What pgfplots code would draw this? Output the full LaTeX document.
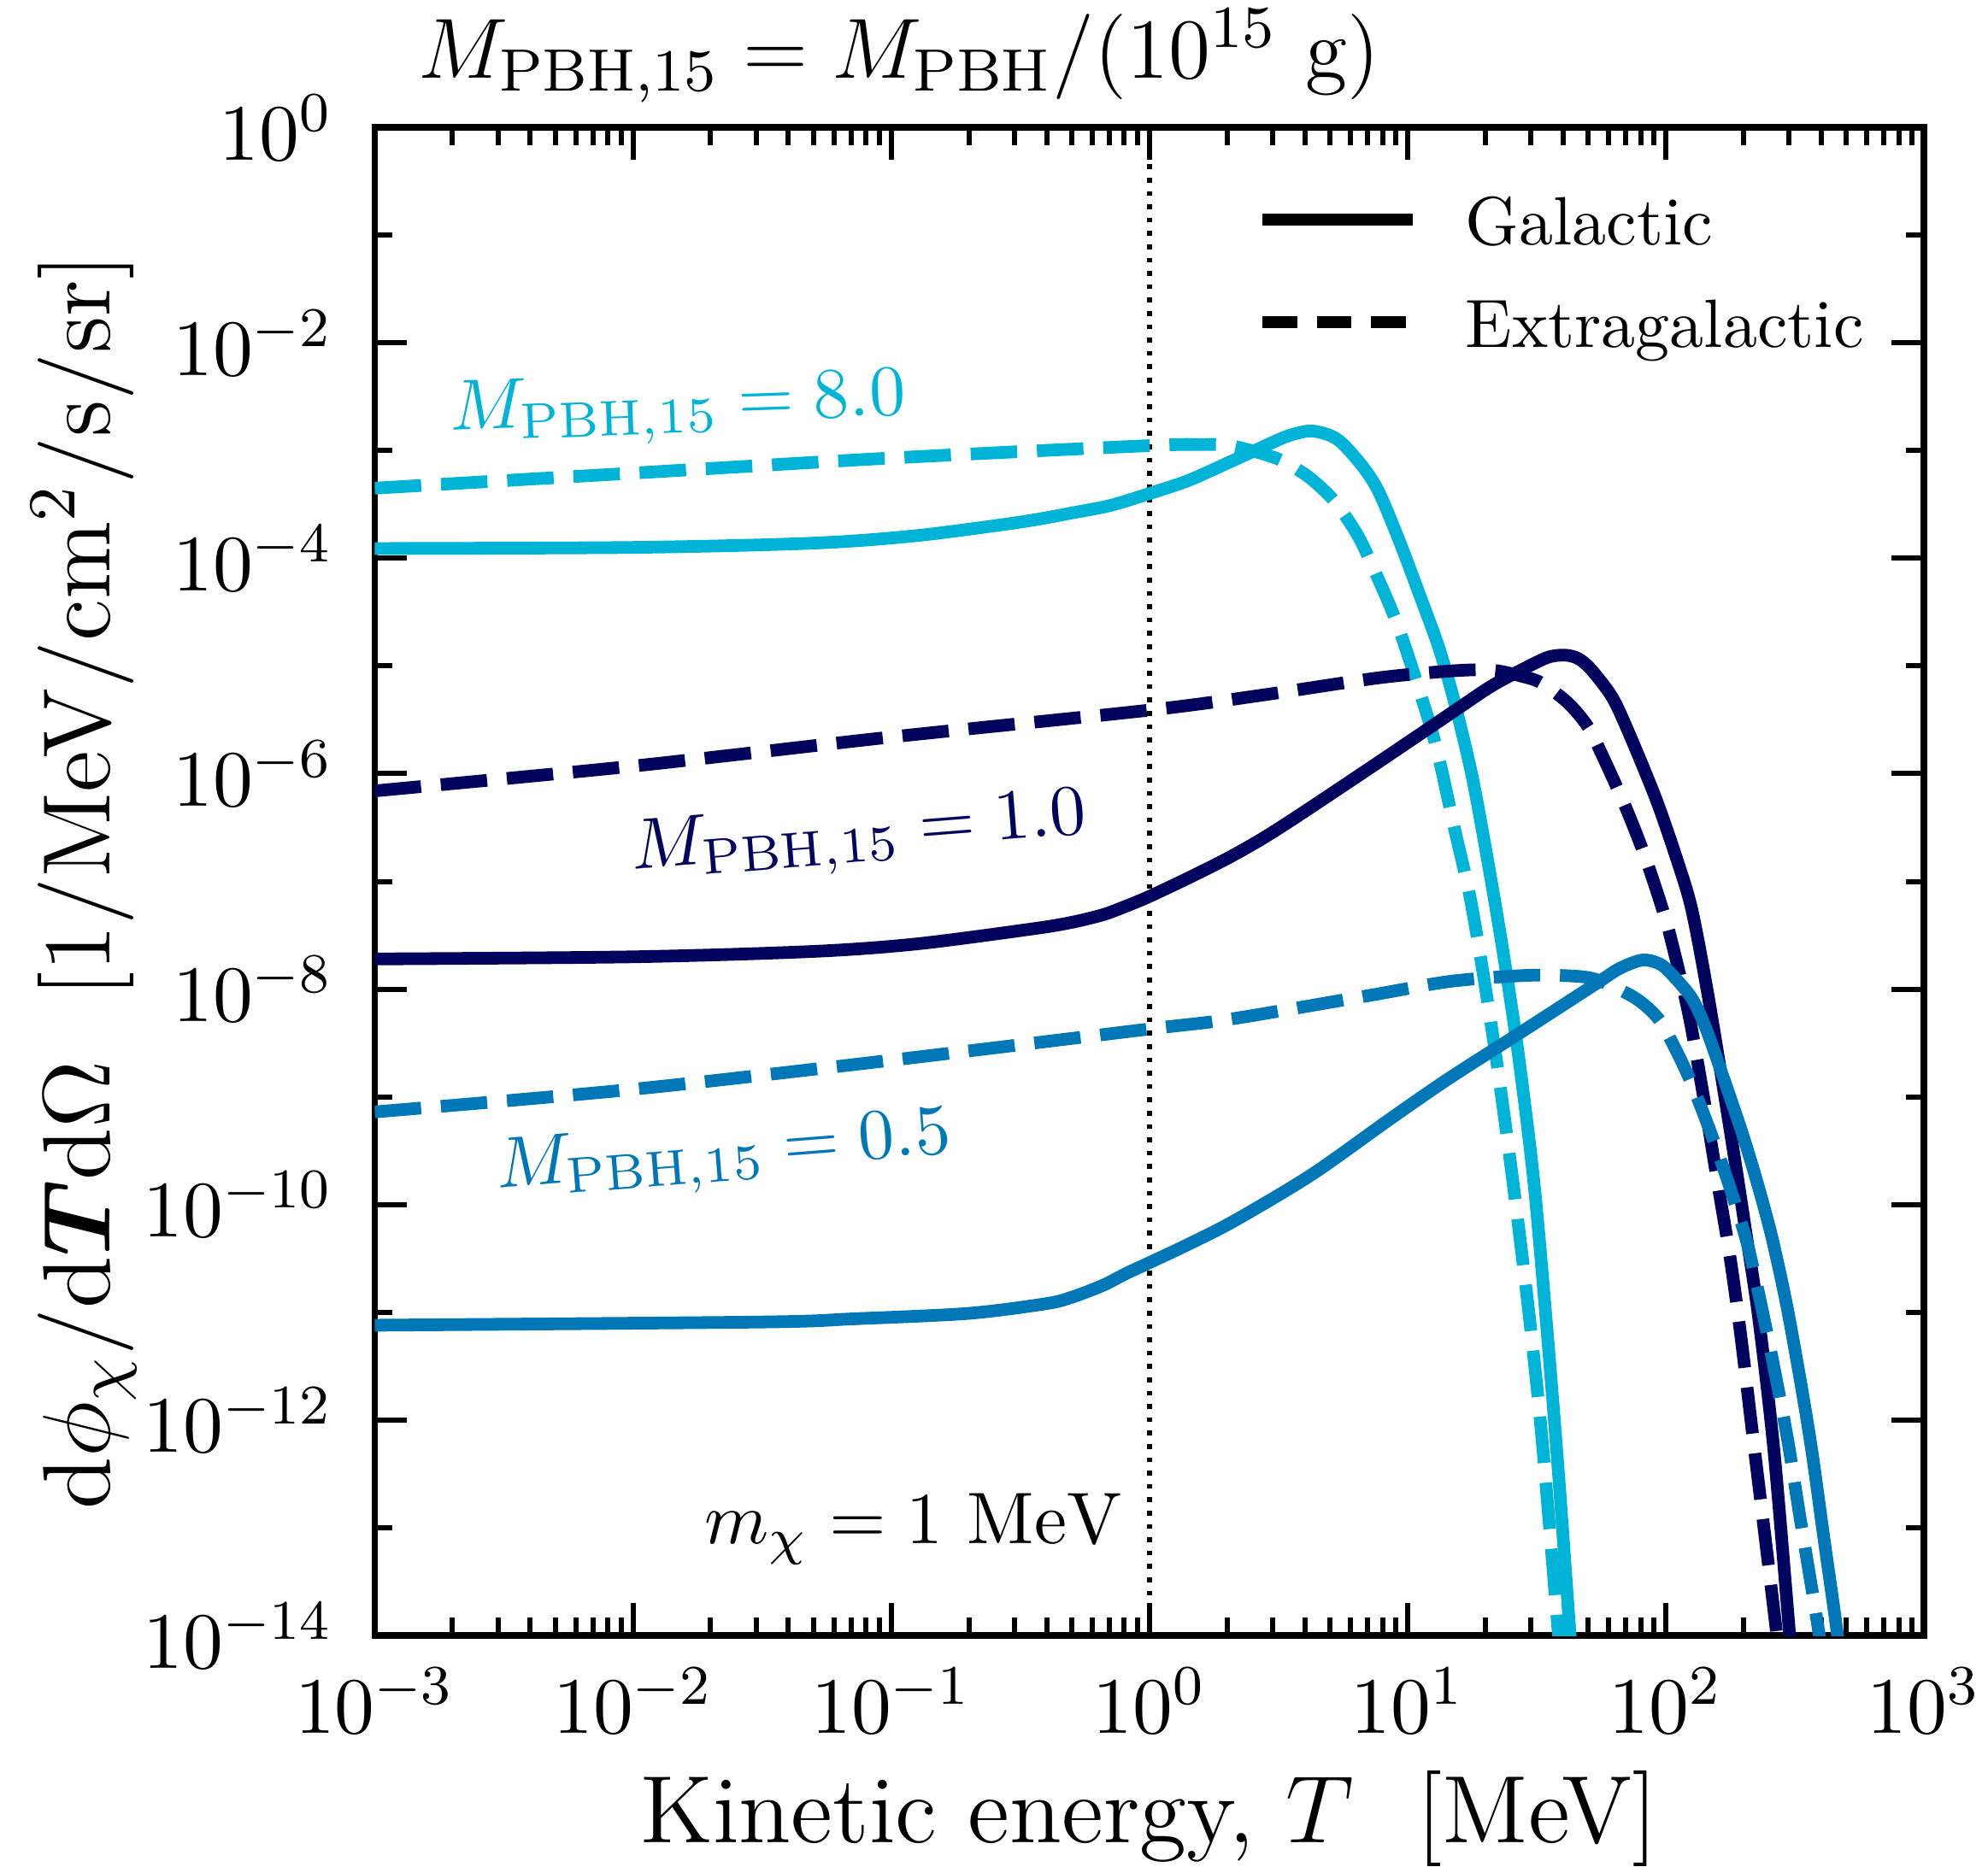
\RequirePackage{fix-cm}
\documentclass[border=0pt]{standalone}
\usepackage{bm}
\usepackage{pgfplots}
\pgfplotsset{compat=1.18}

\definecolor{pbhCyan}{HTML}{00B4D8}
\definecolor{pbhBlue}{HTML}{0077B6}
\definecolor{pbhNavy}{HTML}{03045E}

\pgfplotsset{
  galactic/.style={line width=1.85pt, smooth, tension=0.5, forget plot},
  extragalactic/.style={line width=1.85pt, smooth, tension=0.5,
                        dash pattern=on 6.8pt off 2.9pt, forget plot},
}

\begin{document}
\begin{tikzpicture}
\begin{axis}[
  name=ax,
  scale only axis,
  width=226.56pt, height=220.63pt,
  xmode=log, ymode=log,
  xmin=1e-3, xmax=1e3, ymin=1e-14, ymax=1,
  xtick={1e-3,1e-2,1e-1,1,1e1,1e2,1e3},
  minor xtick={2e-3,3e-3,4e-3,5e-3,6e-3,7e-3,8e-3,9e-3,
               2e-2,3e-2,4e-2,5e-2,6e-2,7e-2,8e-2,9e-2,
               0.2,0.3,0.4,0.5,0.6,0.7,0.8,0.9,
               2,3,4,5,6,7,8,9,
               20,30,40,50,60,70,80,90,
               200,300,400,500,600,700,800,900},
  ytick={1e-14,1e-12,1e-10,1e-8,1e-6,1e-4,1e-2,1},
  minor ytick={1e-13,1e-11,1e-9,1e-7,1e-5,1e-3,1e-1},
  tick align=inside, tick pos=both,
  major tick length=4.7pt, minor tick length=2.6pt,
  every tick/.style={black, line width=0.75pt},
  axis line style={line width=0.9pt},
  tick label style={font=\fontsize{11.7}{14}\selectfont},
  xticklabel style={anchor=base, yshift=-14.25pt},
  yticklabel style={anchor=east, inner sep=0pt, xshift=-6pt},
  label style={font=\fontsize{14}{17}\selectfont},
  xlabel={Kinetic energy, $T$\ \ [MeV]},
  ylabel={$\mathrm{d}\phi_\chi/\mathrm{d}\bm{T}\mathrm{d}\Omega$\ \ [1/MeV/cm$^2$/s/sr]},
  xlabel style={at={(axis description cs:0.5,-0.1371)}, anchor=base},
  ylabel style={at={(axis description cs:-0.1712,0.5)}, anchor=base},
  title={$M_{\mathrm{PBH},15} = M_{\mathrm{PBH}}/(10^{15}\ \mathrm{g})$},
  title style={at={(axis description cs:0.3385,1)}, anchor=base, yshift=1.2pt,
               font=\fontsize{12.5}{15}\selectfont},
  legend style={draw=none, fill=none, at={(axis description cs:0.5693,0.9536)},
                anchor=north west, inner sep=0pt, outer sep=0pt, row sep=8pt,
                font=\fontsize{10}{12}\selectfont,
                nodes={inner sep=0pt, text height=7pt, text depth=0pt}},
  legend cell align=left,
  legend image code/.code={\draw[#1] (0pt,0.2pt) -- (21.9pt,0.2pt);},
  /tikz/every odd column/.append style={column sep=6.9pt},
]

% legend samples
\addlegendimage{black, line width=1.75pt}
\addlegendentry{Galactic}
\addlegendimage{black, line width=1.75pt, dash pattern=on 5.1pt off 2.8pt}
\addlegendentry{Extragalactic}

% m_chi = 1 MeV
\addplot[black, line width=0.7pt, dash pattern=on 0.7pt off 1.25pt, forget plot]
  coordinates {(1,1e-14) (1,1)};

% M_PBH,15 = 8.0
\addplot[pbhCyan, extragalactic] coordinates {
(1e-3,4.467e-4) (1e-2,6.166e-4) (0.1,8.511e-4) (1,1.109e-3) (1.585,1.135e-3)
(1.995,1.122e-3) (2.570,9.772e-4) (3.162,8.318e-4) (3.715,6.761e-4) (4.315,5.248e-4)
(5.248,3.311e-4) (6.457,1.585e-4) (7.762,6.166e-5) (9.120,2.455e-5) (10.72,7.762e-6)
(12.88,1.820e-6) (15.14,3.236e-7) (17.38,7.586e-8) (19.50,1.549e-8) (22.39,1.778e-9)
(25.70,1.514e-10) (29.51,1e-11) (33.11,7.079e-13) (38.46,1e-14) (39.81,3.981e-15)
};
\addplot[pbhCyan, galactic] coordinates {
(1e-3,1.230e-4) (1e-2,1.259e-4) (5.012e-2,1.380e-4) (0.1259,1.622e-4) (0.3162,2.163e-4)
(0.5012,2.630e-4) (0.7079,3.090e-4) (1,3.981e-4) (1.413,5.248e-4) (1.995,7.586e-4)
(2.570,1e-3) (3.311,1.318e-3) (3.890,1.479e-3) (4.315,1.514e-3) (5.012,1.380e-3)
(5.623,1.148e-3) (6.761,6.918e-4) (7.762,4.074e-4) (9.333,1.413e-4) (11.22,4.365e-5)
(13.18,1.514e-5) (15.14,4.786e-6) (17.78,9.550e-7) (20.42,1.585e-7) (23.44,2.239e-8)
(26.92,2.399e-9) (30.90,1.585e-10) (34.67,7.079e-12) (38.46,3.162e-13) (42.66,1e-14)
(44.16,3.981e-15)
};

% M_PBH,15 = 1.0
\addplot[pbhNavy, extragalactic] coordinates {
(1e-3,6.918e-7) (1e-2,1.175e-6) (0.1,2.188e-6) (1,3.890e-6) (2.754,5.370e-6)
(7.762,7.762e-6) (15.14,9.016e-6) (21.38,9.120e-6) (28.18,7.943e-6) (33.11,6.918e-6)
(41.69,4.571e-6) (50.12,2.692e-6) (58.88,1.230e-6) (70.79,4.571e-7) (83.18,1.698e-7)
(95.50,6.310e-8) (104.7,2.951e-8) (123.0,5.754e-9) (141.3,8.913e-10) (158.5,1.660e-10)
(177.8,3.162e-11) (195.0,6.310e-12) (218.8,6.310e-13) (269.2,1.023e-14) (278.6,3.981e-15)
};
\addplot[pbhNavy, galactic] coordinates {
(1e-3,1.905e-8) (1e-2,1.995e-8) (5.012e-2,2.239e-8) (0.1259,2.630e-8) (0.3548,3.631e-8)
(0.5012,4.169e-8) (0.6607,4.898e-8) (0.8128,5.888e-8) (1,7.244e-8) (1.413,1.072e-7)
(1.995,1.622e-7) (2.754,2.512e-7) (3.890,4.266e-7) (7.762,1.288e-6)
(15.14,3.802e-6) (21.38,6.607e-6) (30.20,1.023e-5) (35.48,1.216e-5) (40.74,1.259e-5)
(45.71,1.175e-5) (51.29,9.333e-6) (61.66,5.248e-6) (70.79,2.630e-6) (91.20,6.026e-7)
(109.6,1.698e-7) (125.9,5.623e-8) (144.5,1e-8) (166.0,1.349e-9) (186.2,2.399e-10)
(204.2,5.623e-11) (229.1,8.913e-12) (263.0,5.012e-13) (302.0,1.023e-14) (312.6,3.981e-15)
};

% M_PBH,15 = 0.5
\addplot[pbhBlue, extragalactic] coordinates {
(1e-3,7.244e-10) (1e-2,1.175e-9) (0.1,2.188e-9) (1,4.266e-9) (2.042,5.248e-9)
(7.079,8.710e-9) (14.45,1.175e-8) (27.54,1.334e-8) (40.74,1.334e-8) (53.70,1.230e-8)
(75.86,8.318e-9) (93.33,5.370e-9) (107.2,3.020e-9) (125.9,1.334e-9) (151.4,4.266e-10)
(177.8,1.413e-10) (208.9,3.981e-11) (251.2,5.248e-12) (295.1,7.079e-13) (331.1,1.259e-13)
(393.6,1e-14) (407.4,3.981e-15)
};
\addplot[pbhBlue, galactic] coordinates {
(1e-3,7.586e-12) (3.162e-2,8.128e-12) (7.244e-2,8.710e-12) (0.1995,9.772e-12) (0.3981,1.202e-11)
(0.5012,1.380e-11) (0.6607,1.778e-11) (0.8128,2.291e-11) (1,2.884e-11) (1.413,4.266e-11)
(2.138,7.079e-11) (4.266,1.905e-10) (8.511,6.166e-10) (14.45,1.479e-9) (27.54,3.981e-9)
(53.70,1.122e-8) (66.07,1.549e-8) (81.28,1.862e-8) (95.50,1.698e-8) (107.2,1.318e-8)
(125.9,8.318e-9) (141.3,4.677e-9) (158.5,2.188e-9) (195.0,5.129e-10) (223.9,1.738e-10)
(257.0,5.129e-11) (295.1,1.122e-11) (338.8,1.778e-12) (371.5,4.467e-13) (407.4,8.913e-14)
(462.4,1.023e-14) (478.6,3.981e-15)
};

% curve labels
\node[rotate=2, text=pbhCyan, font=\fontsize{10.5}{13}\selectfont]
  at (axis cs:1.493e-2,2.46e-3) {$M_{\mathrm{PBH},15} = 8.0$};
\node[rotate=4.5, text=pbhNavy, font=\fontsize{10.5}{13}\selectfont]
  at (axis cs:7.53e-2,2.57e-7) {$M_{\mathrm{PBH},15} = 1.0$};
\node[rotate=4.5, text=pbhBlue, font=\fontsize{10.5}{13}\selectfont]
  at (axis cs:2.249e-2,2.818e-10) {$M_{\mathrm{PBH},15} = 0.5$};
\node[anchor=base east, inner sep=0pt, font=\fontsize{10.7}{13}\selectfont]
  at (axis cs:0.80,7.079e-14) {$m_\chi = 1~\mathrm{MeV}$};
\end{axis}
\pgfresetboundingbox
\path[use as bounding box] ([shift={(-54.81pt,-33.75pt)}]ax.south west)
  rectangle ([shift={(235.94pt,239.25pt)}]ax.south west);
\end{tikzpicture}
\end{document}
